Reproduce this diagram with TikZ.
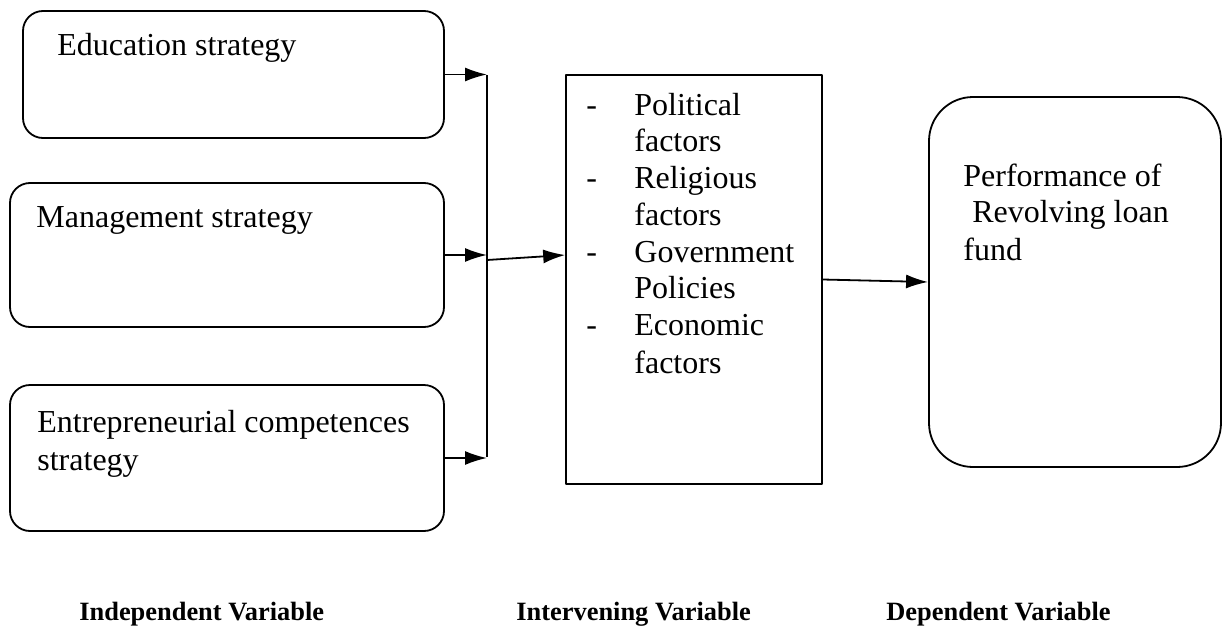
\documentclass[tikz,border=0pt]{standalone}
\usepackage{fontspec}
\setmainfont{Liberation Serif}
\usetikzlibrary{arrows.meta,calc}

\tikzset{
  strategybox/.style={draw,line width=0.9pt,rounded corners=10pt,inner sep=0pt},
  outcomebox/.style={draw,line width=0.9pt,rounded corners=22pt,inner sep=0pt},
  factorbox/.style={draw,line width=0.8pt,inner sep=0pt},
  boxtext/.style={anchor=base west,inner sep=0pt,font=\fontsize{16}{18.5}\selectfont},
  footlabel/.style={anchor=base west,inner sep=0pt,font=\fontsize{13.2}{15}\selectfont\bfseries},
  link/.style={line width=0.9pt,-{Latex[length=11pt,width=7pt]}}
}

\begin{document}
\begin{tikzpicture}[x=0.5pt,y=-0.5pt,line join=bevel]
  \useasboundingbox (0,0) rectangle (1223,632);
%%
  % Node: edu
  \node[strategybox,minimum width=210.5pt,minimum height=63.5pt] (edu) at (233.5,74.5) {};
  \node[boxtext] (edutxt) at (57,55) {Education strategy};
  % Node: mgmt
  \node[strategybox,minimum width=217pt,minimum height=72pt] (mgmt) at (227,255) {};
  \node[boxtext] (mgmttxt) at (36,227) {Management strategy};
  % Node: entre
  \node[strategybox,minimum width=217pt,minimum height=73pt] (entre) at (227,458) {};
  \node[boxtext] (entretxt) at (37,432) {Entrepreneurial competences};
  \node[boxtext] (entretxtb) at (37,470) {strategy};
  % Node: factors
  \node[factorbox,minimum width=128pt,minimum height=204.5pt] (factors) at (694,279.5) {};
  \foreach \name/\y in {pol/115,rel/188,gov/262,eco/335}
    \node[boxtext] (dash\name) at (586,\y) {-};
  \node[boxtext] (polt) at (634,115) {Political};
  \node[boxtext] (polf) at (634,151) {factors};
  \node[boxtext] (relt) at (634,188) {Religious};
  \node[boxtext] (relf) at (634,225) {factors};
  \node[boxtext] (govt) at (634,262) {Government};
  \node[boxtext] (govp) at (634,298) {Policies};
  \node[boxtext] (ecot) at (634,335) {Economic};
  \node[boxtext] (ecof) at (634,373) {factors};
  % Node: perf
  \node[outcomebox,minimum width=146pt,minimum height=185pt] (perf) at (1075,282) {};
  \node[boxtext] (perfa) at (963,186) {Performance of};
  \node[boxtext] (perfb) at (972,222) {Revolving loan};
  \node[boxtext] (perfc) at (963,260) {fund};
  % bus
  \coordinate (bustop) at (487,75);
  \coordinate (busmid) at (487,260);
  \coordinate (busbot) at (487,457);
  % Edge: edu -> bus
  \draw[link] (edu.east) -- (edu.east -| bustop);
  % Edge: mgmt -> bus
  \draw[link] (mgmt.east) -- (mgmt.east -| bustop);
  % Edge: entre -> bus
  \draw[link] (entre.east) -- (entre.east -| bustop);
  \draw[line width=0.9pt] (bustop) -- (busbot);
  % Edge: bus -> factors
  \draw[link] (busmid) -- (factors.west |- mgmt.east);
  % Edge: factors -> perf
  \draw[link] (factors.east) -- (perf.west);
  % labels
  \node[footlabel] (indep) at (79,620) {Independent Variable};
  \node[footlabel] (interv) at (516,620) {Intervening Variable};
  \node[footlabel] (dep) at (886,620) {Dependent Variable};
%
\end{tikzpicture}
\end{document}
